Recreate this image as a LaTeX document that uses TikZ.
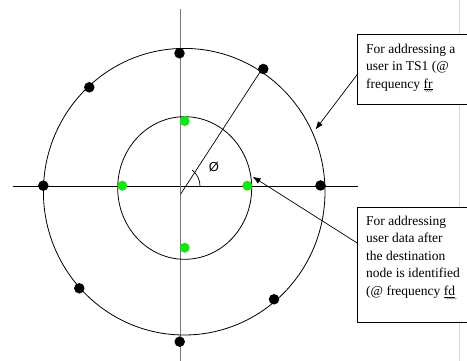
\documentclass[tikz,border=0pt]{standalone}
\usepackage{fontspec}
\setmainfont{Liberation Serif}
\setsansfont{Liberation Sans}
\usetikzlibrary{arrows.meta,decorations.pathmorphing,calc}
\definecolor{dotgreen}{RGB}{20,230,20}
\definecolor{axisgray}{RGB}{120,120,120}
\definecolor{pagegray}{RGB}{215,215,215}
\begin{document}
\begin{tikzpicture}[x=1pt,y=-1pt,
  blackdot/.style={circle,fill=black,inner sep=0pt,minimum size=10.5pt},
  greendot/.style={circle,fill=dotgreen,inner sep=0pt,minimum size=10pt},
  ring/.style={draw=black,line width=0.8pt},
  callout/.style={draw=black,line width=0.8pt,fill=white,inner sep=0pt,anchor=north west},
  calltext/.style={anchor=north west,inner sep=0pt,align=left,font=\fontsize{13.5}{17.5}\selectfont},
  pointer/.style={draw=black,line width=0.7pt,-{Latex[length=8pt,width=6pt]}},
  squiggle/.style={draw=gray,line width=0.4pt,decorate,decoration={snake,amplitude=0.6pt,segment length=2pt}}]
\useasboundingbox (0,0) rectangle (467,361);
\fill[white] (0,0) rectangle (467,361);
% page edge line
\coordinate (pt) at (459.5,0);
\coordinate (pb) at (459.5,361);
\draw[pagegray,line width=0.8pt] (pt) -- (pb);
% axes
\coordinate (hl) at (12.7,186);
\coordinate (hr) at (358,186);
\coordinate (vt) at (180,9);
\coordinate (vb) at (180,361);
\draw[black,line width=0.8pt] (hl) -- (hr);
\draw[axisgray,line width=0.9pt] (vt) -- (vb);
% circles
\coordinate (oc) at (184.2,191.7);
\coordinate (ic) at (184.7,188);
\draw[ring] (oc) ellipse [x radius=140.8pt, y radius=143.3pt];
\draw[ring] (ic) ellipse [x radius=67pt, y radius=71.3pt];
% radius line and angle
\coordinate (o) at (180.5,194.3);
\coordinate (re) at (261,70.5);
\draw[black,line width=0.7pt] (o) -- (re);
\coordinate (as) at (200,186);
\draw[black,line width=0.7pt] (as) arc[start angle=0,end angle=53,radius=20pt];
\node[font=\sffamily\fontsize{13}{13}\selectfont,inner sep=0pt] (phi) at (214,167.3) {Ø};
% black dots
\node[blackdot] (b1) at (179.5,53.3) {};
\node[blackdot] (b2) at (263.3,69) {};
\node[blackdot] (b3) at (89.3,87.3) {};
\node[blackdot] (b4) at (43.3,185.7) {};
\node[blackdot] (b5) at (320.5,185.5) {};
\node[blackdot] (b6) at (79.3,288.3) {};
\node[blackdot] (b7) at (274,299.3) {};
\node[blackdot] (b8) at (179.7,341.7) {};
% green dots
\node[greendot] (g1) at (184.7,121) {};
\node[greendot] (g2) at (122.3,185.7) {};
\node[greendot] (g3) at (247.3,185.7) {};
\node[greendot] (g4) at (184.7,247.7) {};
% callouts
\node[callout,minimum width=115pt,minimum height=70pt] (box1) at (357.3,34) {};
\node[callout,minimum width=115pt,minimum height=115pt] (box2) at (357.3,206.7) {};
\node[calltext] (t1) at (366,43.7) {For addressing a\\user in TS1 (@\\frequency \underline{fr}};
\node[calltext] (t2) at (366,215.7) {For addressing\\user data after\\the destination\\node is identified\\(@ frequency \underline{fd}};
\coordinate (w1s) at (425,91);
\coordinate (w1e) at (433,91);
\coordinate (w2s) at (446,298.5);
\coordinate (w2e) at (457,298.5);
\draw[squiggle] (w1s) -- (w1e);
\draw[squiggle] (w2s) -- (w2e);
% pointers
\coordinate (a1s) at ($(box1.west)+(0,5)$);
\coordinate (a1e) at (315.5,129.5);
\coordinate (a2s) at ($(box2.west)+(0,-21.5)$);
\coordinate (a2e) at (252.7,176.7);
\draw[pointer] (a1s) -- (a1e);
\draw[pointer] (a2s) -- (a2e);
\end{tikzpicture}
\end{document}
